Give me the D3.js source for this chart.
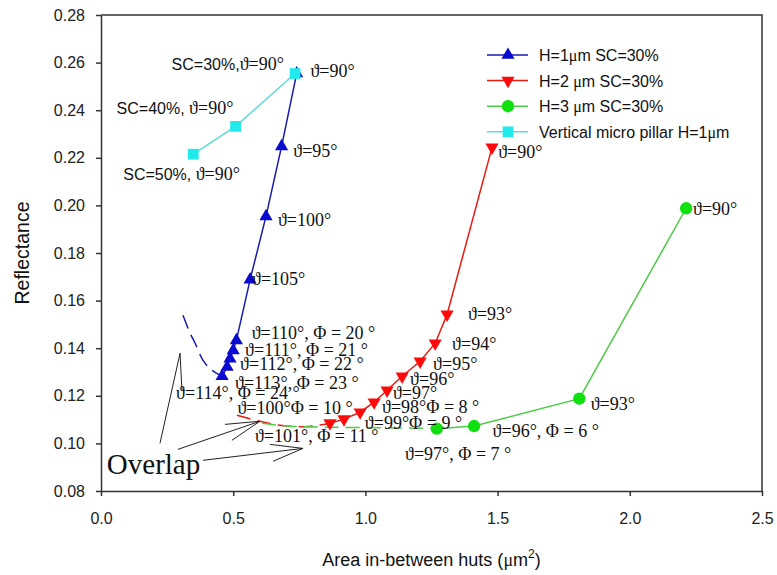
<!DOCTYPE html>
<html>
<head>
<meta charset="utf-8">
<script src="https://cdn.jsdelivr.net/npm/d3@7"></script>
<style>
    body { margin: 0; background: #fff; }
    svg { display: block; }
    .axis text { font-family: Arial, "Liberation Sans", sans-serif; font-size: 16px; fill: #222; }
    .axis path, .axis line { stroke: #333; stroke-width: 1.5px; }
    .note { font-family: "Times New Roman", "Liberation Serif", "DejaVu Serif", serif; font-size: 18px; fill: #111; }
    .sans { font-family: Arial, "Liberation Sans", sans-serif; font-size: 16px; fill: #111; }
</style>
</head>
<body>
<div id="chart"></div>
<script>
// series values (area in-between huts, reflectance)
const h1Area = [0.740, 0.683, 0.624, 0.564, 0.512, 0.500, 0.488, 0.477, 0.458];
const h1Refl = [0.2554, 0.2248, 0.1954, 0.1688, 0.1433, 0.1391, 0.1356, 0.1321, 0.1282];
const h2Area = [1.479, 1.309, 1.264, 1.207, 1.139, 1.082, 1.033, 0.980, 0.919, 0.866];
const h2Refl = [0.2244, 0.1542, 0.1421, 0.1345, 0.1282, 0.1223, 0.1173, 0.1131, 0.1102, 0.1085];
const h3Area = [2.213, 1.809, 1.411, 1.270];
const h3Refl = [0.1988, 0.1188, 0.1073, 0.1062];
const pillarArea = [0.349, 0.509, 0.734];
const pillarRefl = [0.2215, 0.2332, 0.2554];

// dashed overlap curves
const h1DashArea = [0.310, 0.337, 0.356, 0.386, 0.420, 0.458];
const h1DashRefl = [0.1538, 0.1463, 0.1421, 0.1349, 0.1307, 0.1282];
const h2DashArea = [0.514, 0.601, 0.677, 0.772, 0.866];
const h2DashRefl = [0.1118, 0.1093, 0.1076, 0.1070, 0.1085];
const h3DashArea = [0.609, 0.715, 0.866, 1.055, 1.271];
const h3DashRefl = [0.1085, 0.1072, 0.1068, 0.1066, 0.1063];

const seriesNames = ["H=1μm SC=30%", "H=2 μm SC=30%", "H=3 μm SC=30%", "Vertical micro pillar H=1μm"];

const xTicks = [0.0, 0.5, 1.0, 1.5, 2.0, 2.5];
const yTicks = [0.08, 0.10, 0.12, 0.14, 0.16, 0.18, 0.20, 0.22, 0.24, 0.26, 0.28];

// annotations: text, anchor (area, reflectance) of left end of baseline
const noteText = [
    "ϑ=90°", "SC=30%,ϑ=90°", "SC=40%, ϑ=90°", "SC=50%, ϑ=90°",
    "ϑ=95°", "ϑ=100°", "ϑ=105°",
    "ϑ=110°, Φ = 20 °", "ϑ=111°, Φ = 21 °", "ϑ=112°, Φ = 22 °", "ϑ=113°, Φ = 23 °", "ϑ=114°, Φ = 24 °",
    "ϑ=100°Φ = 10 °", "ϑ=101°, Φ = 11 °",
    "ϑ=90°", "ϑ=93°", "ϑ=94°", "ϑ=95°", "ϑ=96°", "ϑ=97°", "ϑ=98°Φ = 8 °", "ϑ=99°Φ = 9 °",
    "ϑ=96°, Φ = 6 °", "ϑ=97°, Φ = 7 °", "ϑ=93°", "ϑ=90°"
];
const noteArea = [0.792, 0.267, 0.059, 0.084, 0.727, 0.669, 0.571, 0.570, 0.545, 0.526, 0.507, 0.284,
    0.516, 0.582, 1.502, 1.388, 1.328, 1.256, 1.169, 1.104, 1.063, 0.998, 1.481, 1.150, 1.852, 2.239];
const noteRefl = [0.2540, 0.2568, 0.2386, 0.2106, 0.2203, 0.1912, 0.1664, 0.1440, 0.1366, 0.1307, 0.1230, 0.1188,
    0.1125, 0.1006, 0.2198, 0.1517, 0.1391, 0.1307, 0.1244, 0.1188, 0.1128, 0.1062, 0.1027, 0.0932, 0.1139, 0.1958];

// "Overlap" arrows: [x1, y1, x2, y2] in data units
const arrowLines = [
    [0.223, 0.1000, 0.299, 0.1379], [0.299, 0.1379, 0.306, 0.1223],
    [0.291, 0.0975, 0.601, 0.1093], [0.469, 0.1080, 0.601, 0.1093], [0.495, 0.1013, 0.601, 0.1093],
    [0.386, 0.0929, 0.764, 0.0979], [0.639, 0.0996, 0.764, 0.0979], [0.651, 0.0925, 0.764, 0.0979]
];

const blue = "#0a0ad0", red = "#ff0a0a", green = "#10e010", cyan = "#20eaea";
const lineColors = ["#1a1ab4", "#e81a12", "#4ccc44", "#5ddada"];
const markColors = [blue, red, green, cyan];

function vis() {
    const width = 777;
    const height = 575;
    const margin = { left: 101, top: 15, right: 15, bottom: 84 };

    const svg = d3.select("#chart")
        .append("svg")
        .attr("width", width)
        .attr("height", height);

    const xScale = d3.scaleLinear()
        .domain([0, 2.5])
        .range([margin.left, width - margin.right]);

    const yScale = d3.scaleLinear()
        .domain([0.08, 0.28])
        .range([height - margin.bottom, margin.top]);

    // frame
    svg.append("path")
        .attr("fill", "none")
        .attr("stroke", "#333")
        .attr("stroke-width", 1.5)
        .attr("d", `M${xScale(0)},${yScale(0.28)}H${xScale(2.5)}V${yScale(0.08)}`);

    svg.append("g")
        .attr("class", "axis")
        .attr("transform", `translate(0, ${yScale(0.08)})`)
        .call(d3.axisBottom(xScale).tickValues(xTicks).tickSize(5).tickSizeOuter(0).tickPadding(17).tickFormat(d3.format(".1f")));

    svg.append("g")
        .attr("class", "axis")
        .attr("transform", `translate(${xScale(0)}, 0)`)
        .call(d3.axisLeft(yScale).tickValues(yTicks).tickSize(5).tickSizeOuter(0).tickPadding(11).tickFormat(d3.format(".2f")));

    // axis titles
    svg.append("text")
        .attr("class", "sans")
        .style("font-size", "19.5px")
        .attr("text-anchor", "middle")
        .attr("transform", `translate(29, ${yScale(0.18)}) rotate(-90)`)
        .text("Reflectance");

    const xTitle = svg.append("text")
        .attr("class", "sans")
        .style("font-size", "18px")
        .attr("text-anchor", "middle")
        .attr("x", xScale(1.25))
        .attr("y", 566);
    xTitle.append("tspan").text("Area in-between huts (");
    xTitle.append("tspan").style("font-family", "'Liberation Serif', serif").text("μ");
    xTitle.append("tspan").text("m");
    xTitle.append("tspan").attr("dy", -8).style("font-size", "12px").text("2");
    xTitle.append("tspan").attr("dy", 8).text(")");

    const line = d3.line()
        .x(d => xScale(d[0]))
        .y(d => yScale(d[1]));

    const curve = d3.line()
        .x(d => xScale(d[0]))
        .y(d => yScale(d[1]))
        .curve(d3.curveCatmullRom);

    const series = [
        d3.zip(h1Area, h1Refl),
        d3.zip(h2Area, h2Refl),
        d3.zip(h3Area, h3Refl),
        d3.zip(pillarArea, pillarRefl)
    ];
    const dashed = [
        d3.zip(h1DashArea, h1DashRefl),
        d3.zip(h2DashArea, h2DashRefl),
        d3.zip(h3DashArea, h3DashRefl)
    ];

    svg.selectAll(".dash-line")
        .data(dashed)
        .join("path")
            .attr("class", "dash-line")
            .attr("fill", "none")
            .attr("stroke", (_, i) => lineColors[i])
            .attr("stroke-width", 1.5)
            .attr("stroke-dasharray", "14,7")
            .attr("d", d => curve(d));

    svg.selectAll(".series-line")
        .data(series)
        .join("path")
            .attr("class", "series-line")
            .attr("fill", "none")
            .attr("stroke", (_, i) => lineColors[i])
            .attr("stroke-width", 1.5)
            .attr("d", d => line(d));

    const symbols = [
        { type: d3.symbolTriangle, size: 75, rot: 0 },
        { type: d3.symbolTriangle, size: 75, rot: 180 },
        { type: d3.symbolCircle, size: 120, rot: 0 },
        { type: d3.symbolSquare, size: 115, rot: 0 }
    ];

    series.forEach((pts, i) => {
        svg.selectAll(`.mark-${i}`)
            .data(pts)
            .join("path")
                .attr("class", `mark-${i}`)
                .attr("fill", markColors[i])
                .attr("transform", d => `translate(${xScale(d[0])}, ${yScale(d[1])}) rotate(${symbols[i].rot})`)
                .attr("d", d3.symbol(symbols[i].type, symbols[i].size));
    });

    // annotations
    const notes = svg.selectAll(".note")
        .data(noteText.map((t, i) => ({ t, x: noteArea[i], y: noteRefl[i] })))
        .join("text")
            .attr("class", "note")
            .attr("x", d => xScale(d.x))
            .attr("y", d => yScale(d.y));

    notes.each(function(d) {
        const el = d3.select(this);
        const k = d.t.indexOf("ϑ");
        if (k > 0) {
            el.append("tspan").attr("class", "sans").text(d.t.slice(0, k));
            el.append("tspan").text(d.t.slice(k));
        } else {
            el.text(d.t);
        }
    });

    svg.append("text")
        .attr("class", "note")
        .style("font-size", "29px")
        .attr("x", xScale(0.022))
        .attr("y", yScale(0.0873))
        .text("Overlap");

    svg.selectAll(".arrow")
        .data(arrowLines)
        .join("line")
            .attr("class", "arrow")
            .attr("stroke", "#222")
            .attr("stroke-width", 1)
            .attr("x1", d => xScale(d[0]))
            .attr("y1", d => yScale(d[1]))
            .attr("x2", d => xScale(d[2]))
            .attr("y2", d => yScale(d[3]));

    // legend
    const legend = svg.selectAll(".legend")
        .data(seriesNames)
        .join("g")
            .attr("class", "legend")
            .attr("transform", (_, i) => `translate(487, ${55 + i * 25.6})`);

    legend.append("line")
        .attr("x1", 0)
        .attr("x2", 41)
        .attr("stroke", (_, i) => lineColors[i])
        .attr("stroke-width", 1.5);

    legend.append("path")
        .attr("fill", (_, i) => markColors[i])
        .attr("transform", (_, i) => `translate(21, 0) rotate(${symbols[i].rot})`)
        .attr("d", (_, i) => d3.symbol(symbols[i].type, symbols[i].size)());

    const legendText = legend.append("text")
        .attr("class", "sans")
        .attr("x", 52)
        .attr("y", 6);

    legendText.each(function(d) {
        const el = d3.select(this);
        d.split("μ").forEach((part, j) => {
            if (j > 0) el.append("tspan").style("font-family", "'Liberation Serif', serif").text("μ");
            el.append("tspan").text(part);
        });
    });
}

vis();
</script>
</body>
</html>
